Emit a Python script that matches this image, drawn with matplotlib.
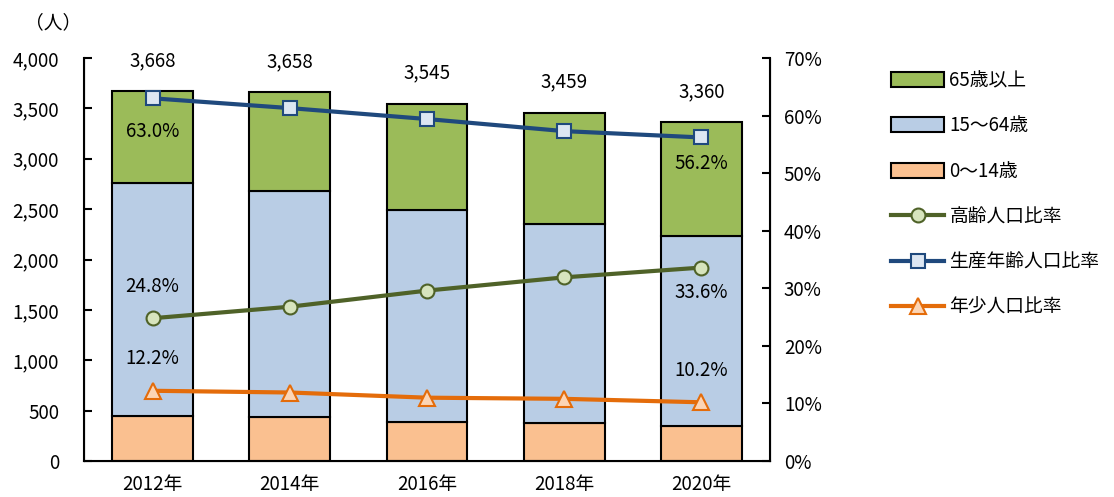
import matplotlib.pyplot as plt
from matplotlib.ticker import FuncFormatter, MultipleLocator

plt.rcParams['font.family'] = ['Noto Sans CJK JP', 'DejaVu Sans']
plt.rcParams['font.size'] = 13.5

years = ['2012年', '2014年', '2016年', '2018年', '2020年']
age_0_14 = [447, 435, 390, 374, 343]
age_15_64 = [2311, 2242, 2106, 1982, 1888]
age_65_over = [910, 981, 1049, 1103, 1129]
totals = [3668, 3658, 3545, 3459, 3360]

elderly_ratio = [24.8, 26.8, 29.6, 31.9, 33.6]
working_ratio = [63.0, 61.3, 59.4, 57.3, 56.2]
youth_ratio = [12.2, 11.9, 11.0, 10.8, 10.2]

fig = plt.figure(figsize=(11.14, 4.97), dpi=100)
ax = fig.add_axes([0.0754, 0.0724, 0.6158, 0.8109])
ax2 = ax.twinx()

x = list(range(len(years)))
w = 0.59
edge = dict(edgecolor='black', linewidth=1.5)
b1 = ax.bar(x, age_0_14, w, color='#FAC090', label='0～14歳', **edge)
b2 = ax.bar(x, age_15_64, w, bottom=age_0_14, color='#B9CDE5', label='15～64歳', **edge)
base = [a + b for a, b in zip(age_0_14, age_15_64)]
b3 = ax.bar(x, age_65_over, w, bottom=base, color='#9BBB59', label='65歳以上', **edge)

for i, t in enumerate(totals):
    ax.annotate(f'{t:,}', (i, t), xytext=(0, 22), textcoords='offset points',
                ha='center', va='center')

ax.set_xlim(-0.5, 4.5)
ax.set_ylim(0, 4000)
ax.yaxis.set_major_locator(MultipleLocator(500))
ax.yaxis.set_major_formatter(FuncFormatter(lambda v, p: f'{int(v):,}'))
ax.set_xticks(x)
ax.set_xticklabels(years)
ax.tick_params(axis='x', length=0, pad=9)
ax.tick_params(axis='y', direction='in', length=6, width=1.5, pad=18)
ax.spines['top'].set_visible(False)
ax2.spines['top'].set_visible(False)
for s in ['left', 'right', 'bottom']:
    ax2.spines[s].set_linewidth(1.5)

l1, = ax2.plot(x, elderly_ratio, color='#4F6228', lw=3, marker='o', ms=10,
               mfc='#D7E4BD', mec='#4F6228', mew=1.5, label='高齢人口比率')
l2, = ax2.plot(x, working_ratio, color='#1F497D', lw=3, marker='s', ms=10,
               mfc='#DCE6F2', mec='#1F497D', mew=1.5, label='生産年齢人口比率')
l3, = ax2.plot(x, youth_ratio, color='#E46C0A', lw=3, marker='^', ms=11,
               mfc='#FCD5B5', mec='#E46C0A', mew=1.5, label='年少人口比率')

ax2.set_ylim(0, 70)
ax2.yaxis.set_major_locator(MultipleLocator(10))
ax2.yaxis.set_major_formatter(FuncFormatter(lambda v, p: f'{int(v)}%'))
ax2.tick_params(axis='y', direction='in', length=6, width=1.5, pad=10)

# ratio labels on first and last year
offsets = {
    0: [(working_ratio, -24), (elderly_ratio, 23), (youth_ratio, 23)],
    4: [(working_ratio, -19), (elderly_ratio, -18), (youth_ratio, 23)],
}
for i, items in offsets.items():
    for series, dy in items:
        ax2.annotate(f'{series[i]:.1f}%', (i, series[i]), xytext=(0, dy),
                     textcoords='offset points', ha='center', va='center')

fig.text(0.022, 0.955, '（人）', va='center')

fig.legend([b3, b2, b1, l1, l2, l3],
           ['65歳以上', '15～64歳', '0～14歳', '高齢人口比率', '生産年齢人口比率', '年少人口比率'],
           loc='upper left', bbox_to_anchor=(0.785, 0.893), frameon=False,
           handlelength=2.8, handleheight=0.85, labelspacing=1.3,
           handletextpad=0.3)

fig.savefig('out.png', dpi=100)
